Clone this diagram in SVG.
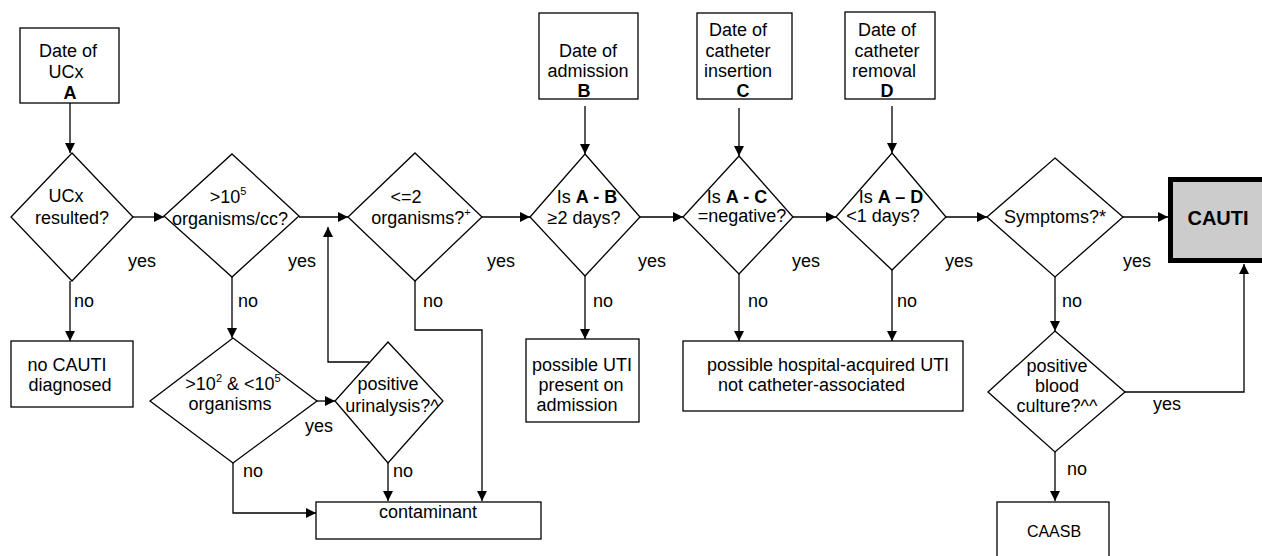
<svg xmlns="http://www.w3.org/2000/svg" width="1262" height="556" viewBox="0 0 1262 556">
<defs>
<marker id="ah" viewBox="0 0 10 10" refX="10" refY="5" markerWidth="10" markerHeight="10" markerUnits="userSpaceOnUse" orient="auto">
<path d="M0,0 L10,5 L0,10 z" fill="#000"/>
</marker>
<style>
text{font-family:"Liberation Sans",Arial,sans-serif;font-size:18px;fill:#000}
.c{text-anchor:middle}
.b{font-weight:bold}
.sh{fill:#fff;stroke:#000;stroke-width:1.3}
.ln{fill:none;stroke:#000;stroke-width:1.3}
.ar{marker-end:url(#ah)}
.sup{font-size:11px}
</style>
</defs>
<rect width="1262" height="556" fill="#fff"/>

<g id="connectors">
<path class="ln ar" d="M70,103 V153"/>
<path class="ln ar" d="M585,106 V154"/>
<path class="ln ar" d="M739,108 V156"/>
<path class="ln ar" d="M892,106 V153"/>
<path class="ln ar" d="M133,217 H164"/>
<path class="ln ar" d="M299,217 H348"/>
<path class="ln ar" d="M482,217 H530"/>
<path class="ln ar" d="M640,217 H683"/>
<path class="ln ar" d="M793,217 H836"/>
<path class="ln ar" d="M946,217 H987"/>
<path class="ln ar" d="M1123,217 H1168"/>
<path class="ln ar" d="M70,281 V341"/>
<path class="ln ar" d="M232,277 V338"/>
<path class="ln ar" d="M317,401 H335"/>
<path class="ln ar" d="M369,362 H328 V227"/>
<path class="ln ar" d="M388,463 V501"/>
<path class="ln ar" d="M233,463 V513 H316"/>
<path class="ln ar" d="M415,281 V330 H482 V501"/>
<path class="ln ar" d="M585,276 V339"/>
<path class="ln ar" d="M739,274 V341"/>
<path class="ln ar" d="M892,270 V341"/>
<path class="ln ar" d="M1055,277 V331"/>
<path class="ln ar" d="M1125,392 H1244 V264"/>
<path class="ln ar" d="M1055,452 V501"/>
<text x="128" y="267">yes</text>
<text x="288" y="267">yes</text>
<text x="487" y="267">yes</text>
<text x="638" y="267">yes</text>
<text x="792" y="267">yes</text>
<text x="945" y="267">yes</text>
<text x="1123" y="267">yes</text>
<text x="305" y="432">yes</text>
<text x="1153" y="410">yes</text>
<text x="74" y="307">no</text>
<text x="238" y="307">no</text>
<text x="423" y="307">no</text>
<text x="593" y="307">no</text>
<text x="748" y="307">no</text>
<text x="897" y="307">no</text>
<text x="1062" y="307">no</text>
<text x="243" y="477">no</text>
<text x="393" y="477">no</text>
<text x="1067" y="475">no</text>
</g>

<g id="boxA">
<rect class="sh" x="20" y="28" width="99" height="75"/>
<text class="c" x="68" y="57">Date of</text>
<text class="c" x="66" y="78">UCx</text>
<text class="c b" x="70" y="99">A</text>
</g>
<g id="boxB">
<rect class="sh" x="539" y="13" width="99" height="86"/>
<text class="c" x="588" y="57">Date of</text>
<text class="c" x="588" y="77">admission</text>
<text class="c b" x="584" y="97">B</text>
</g>
<g id="boxC">
<rect class="sh" x="697" y="13" width="95" height="86"/>
<text class="c" x="738" y="36">Date of</text>
<text class="c" x="738" y="57">catheter</text>
<text class="c" x="738" y="77">insertion</text>
<text class="c b" x="743" y="97">C</text>
</g>
<g id="boxD">
<rect class="sh" x="845" y="12" width="90" height="87"/>
<text class="c" x="887" y="36">Date of</text>
<text class="c" x="887" y="57">catheter</text>
<text class="c" x="884" y="77">removal</text>
<text class="c b" x="887" y="97">D</text>
</g>

<g id="d1">
<polygon class="sh" points="72,153 133,217 72,281 11,217"/>
<text class="c" x="66" y="202">UCx</text>
<text class="c" x="72" y="224">resulted?</text>
</g>
<g id="d2">
<polygon class="sh" points="232,154 299,216 232,277 164,216"/>
<text class="c" x="228" y="203">&gt;10<tspan class="sup" dy="-8">5</tspan></text>
<text class="c" x="230" y="225">organisms/cc?</text>
</g>
<g id="d3">
<polygon class="sh" points="415,153 482,217 415,281 348,217"/>
<text class="c" x="406" y="203">&lt;=2</text>
<text class="c" x="421" y="224">organisms?<tspan class="sup" dy="-8">+</tspan></text>
</g>
<g id="d4">
<polygon class="sh" points="585,154 640,217 585,276 530,217"/>
<text class="c" x="587" y="203">Is <tspan class="b">A - B</tspan></text>
<text class="c" x="584" y="224">≥2 days?</text>
</g>
<g id="d5">
<polygon class="sh" points="739,156 793,217 739,274 683,217"/>
<text class="c" x="737" y="203">Is <tspan class="b">A - C</tspan></text>
<text class="c" x="742" y="222">=negative?</text>
</g>
<g id="d6">
<polygon class="sh" points="892,153 946,217 892,270 836,217"/>
<text class="c" x="891" y="203">Is <tspan class="b">A – D</tspan></text>
<text class="c" x="883" y="222">&lt;1 days?</text>
</g>
<g id="d7">
<polygon class="sh" points="1055,158 1123,217 1055,277 987,217"/>
<text class="c" x="1055" y="223">Symptoms?*</text>
</g>
<g id="cauti">
<rect x="1170.5" y="179.5" width="100" height="81" fill="#cccccc" stroke="#000" stroke-width="5"/>
<text class="c b" x="1218" y="225" style="font-size:20px">CAUTI</text>
</g>

<g id="noCauti">
<rect class="sh" x="11" y="341" width="122" height="66"/>
<text class="c" x="67" y="371">no CAUTI</text>
<text class="c" x="70" y="391">diagnosed</text>
</g>
<g id="d8">
<polygon class="sh" points="233,338 317,401 233,463 150,401"/>
<text class="c" x="233" y="390">&gt;10<tspan class="sup" dy="-8">2</tspan><tspan dy="8"> &amp; &lt;10</tspan><tspan class="sup" dy="-8">5</tspan></text>
<text class="c" x="230" y="410">organisms</text>
</g>
<g id="d9">
<polygon class="sh" points="388,342 443,401 388,463 335,401"/>
<text class="c" x="388" y="390">positive</text>
<text class="c" x="392" y="412">urinalysis?^</text>
</g>
<g id="contaminant">
<rect class="sh" x="316" y="502" width="225" height="37"/>
<text class="c" x="428" y="518">contaminant</text>
</g>
<g id="utiAdmission">
<rect class="sh" x="526" y="339" width="113" height="83"/>
<text class="c" x="582" y="371">possible UTI</text>
<text class="c" x="581" y="391">present on</text>
<text class="c" x="577" y="411">admission</text>
</g>
<g id="hospitalUti">
<rect class="sh" x="683" y="341" width="280" height="70"/>
<text x="707" y="371">possible hospital-acquired UTI</text>
<text x="718" y="391">not catheter-associated</text>
</g>
<g id="d10">
<polygon class="sh" points="1055,331 1125,392 1055,452 988,392"/>
<text class="c" x="1057" y="372">positive</text>
<text class="c" x="1057" y="392">blood</text>
<text class="c" x="1057" y="412">culture?^^</text>
</g>
<g id="caasb">
<rect class="sh" x="997" y="502" width="112" height="70"/>
<text class="c" x="1054" y="537" style="font-size:16px">CAASB</text>
</g>
</svg>
